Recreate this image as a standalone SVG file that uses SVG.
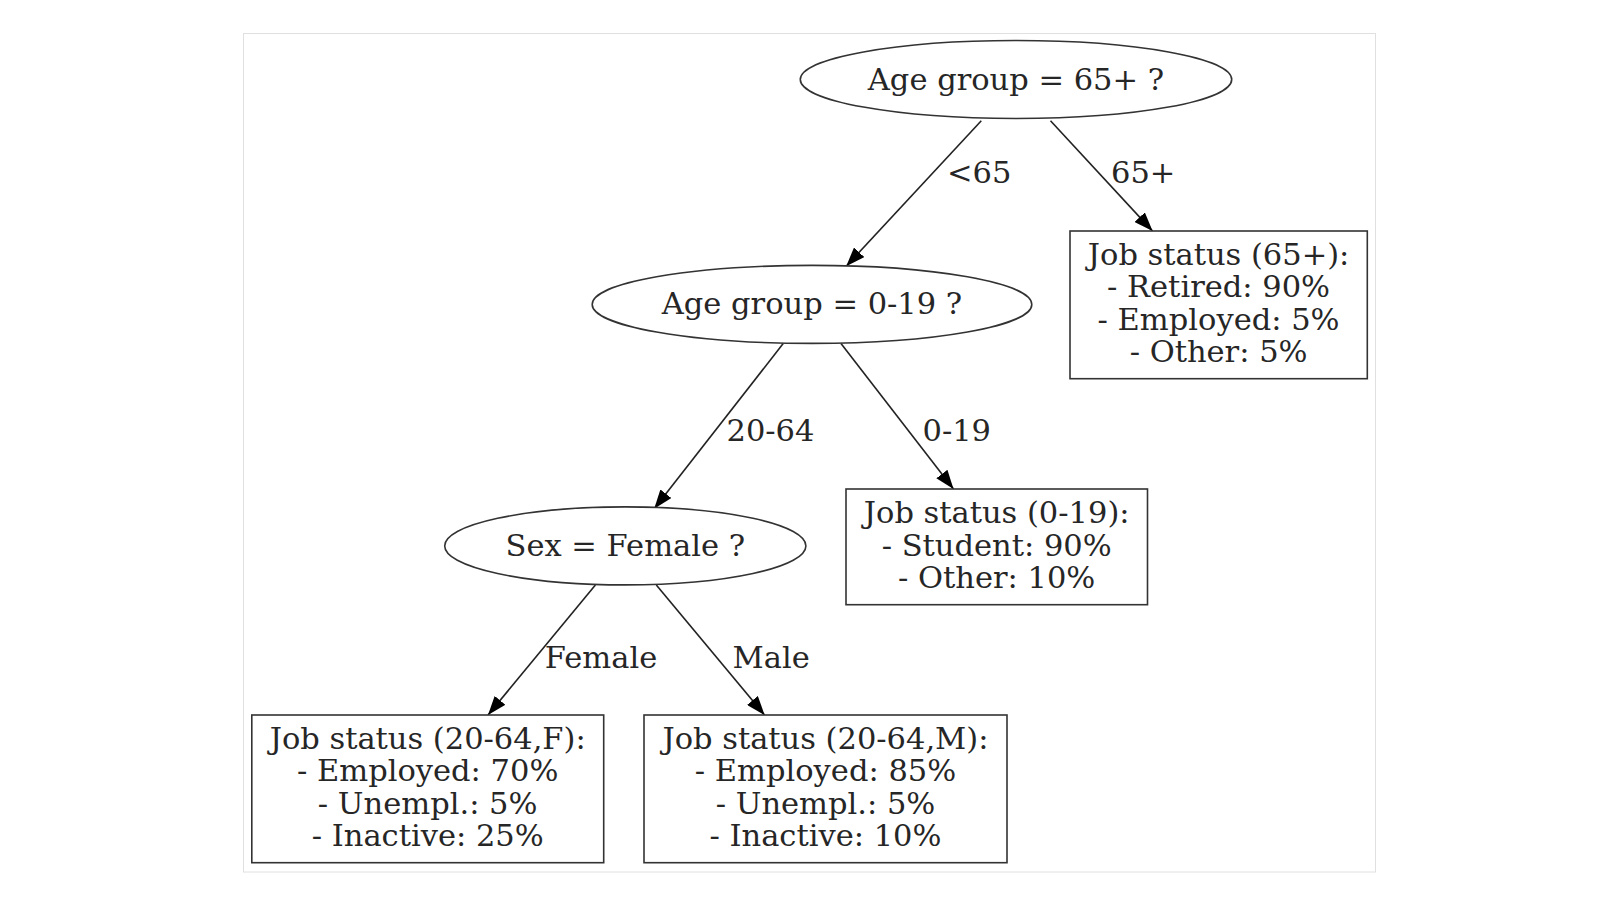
<svg xmlns="http://www.w3.org/2000/svg" width="1618" height="908" viewBox="0 0 1618 908">
<defs>
<style>
text{font-family:"DejaVu Serif","Liberation Serif",serif;font-size:30.5px;fill:#262626;text-anchor:middle}
.lbl{text-anchor:start}
.node{fill:#fff;stroke:#333;stroke-width:1.6}
.edge{fill:none;stroke:#222;stroke-width:1.6}
</style>
<marker id="arr" viewBox="0 0 19 14" refX="19" refY="7" markerWidth="19" markerHeight="14" markerUnits="userSpaceOnUse" orient="auto">
<path d="M0,0 L19,7 L0,14 z" fill="#000"/>
</marker>
</defs>
<rect x="0" y="0" width="1618" height="908" fill="#fff"/>
<rect x="243.5" y="33.5" width="1132" height="838.5" fill="#fff" stroke="#e0e0e0" stroke-width="1"/>
<g id="edges">
<line class="edge" x1="981.3" y1="120.7" x2="846.2" y2="266.2" marker-end="url(#arr)"/>
<text class="lbl" x="947" y="183">&lt;65</text>
<line class="edge" x1="1050.5" y1="120.7" x2="1152.6" y2="231.1" marker-end="url(#arr)"/>
<text class="lbl" x="1111" y="183">65+</text>
<line class="edge" x1="783.2" y1="343.6" x2="654.2" y2="508.7" marker-end="url(#arr)"/>
<text class="lbl" x="726.5" y="441">20-64</text>
<line class="edge" x1="841" y1="343.6" x2="953.5" y2="489.1" marker-end="url(#arr)"/>
<text class="lbl" x="922.5" y="441">0-19</text>
<line class="edge" x1="595.4" y1="585" x2="488" y2="715" marker-end="url(#arr)"/>
<text class="lbl" x="544.8" y="668">Female</text>
<line class="edge" x1="656.3" y1="585" x2="764.6" y2="715" marker-end="url(#arr)"/>
<text class="lbl" x="732.6" y="668">Male</text>
</g>
<g id="n_age65">
<ellipse class="node" cx="1016" cy="79.5" rx="215.7" ry="39"/>
<text x="1016" y="89.5">Age group = 65+ ?</text>
</g>
<g id="n_age019">
<ellipse class="node" cx="812" cy="304.4" rx="219.8" ry="39"/>
<text x="812" y="314.4">Age group = 0-19 ?</text>
</g>
<g id="n_sex">
<ellipse class="node" cx="625.3" cy="545.9" rx="180.6" ry="39"/>
<text x="625.3" y="555.9">Sex = Female ?</text>
</g>
<g id="leaf_65">
<rect class="node" x="1070" y="231" width="297.3" height="147.7"/>
<text x="1218.6" y="264.5">Job status (65+):</text>
<text x="1218.6" y="297">- Retired: 90%</text>
<text x="1218.6" y="329.5">- Employed: 5%</text>
<text x="1218.6" y="362">- Other: 5%</text>
</g>
<g id="leaf_019">
<rect class="node" x="846" y="489" width="301.5" height="115.7"/>
<text x="996.7" y="523">Job status (0-19):</text>
<text x="996.7" y="555.5">- Student: 90%</text>
<text x="996.7" y="588">- Other: 10%</text>
</g>
<g id="leaf_F">
<rect class="node" x="251.8" y="715" width="351.9" height="147.7"/>
<text x="427.7" y="748.5">Job status (20-64,F):</text>
<text x="427.7" y="781">- Employed: 70%</text>
<text x="427.7" y="813.5">- Unempl.: 5%</text>
<text x="427.7" y="846">- Inactive: 25%</text>
</g>
<g id="leaf_M">
<rect class="node" x="644" y="715" width="363" height="147.7"/>
<text x="825.5" y="748.5">Job status (20-64,M):</text>
<text x="825.5" y="781">- Employed: 85%</text>
<text x="825.5" y="813.5">- Unempl.: 5%</text>
<text x="825.5" y="846">- Inactive: 10%</text>
</g>
</svg>
